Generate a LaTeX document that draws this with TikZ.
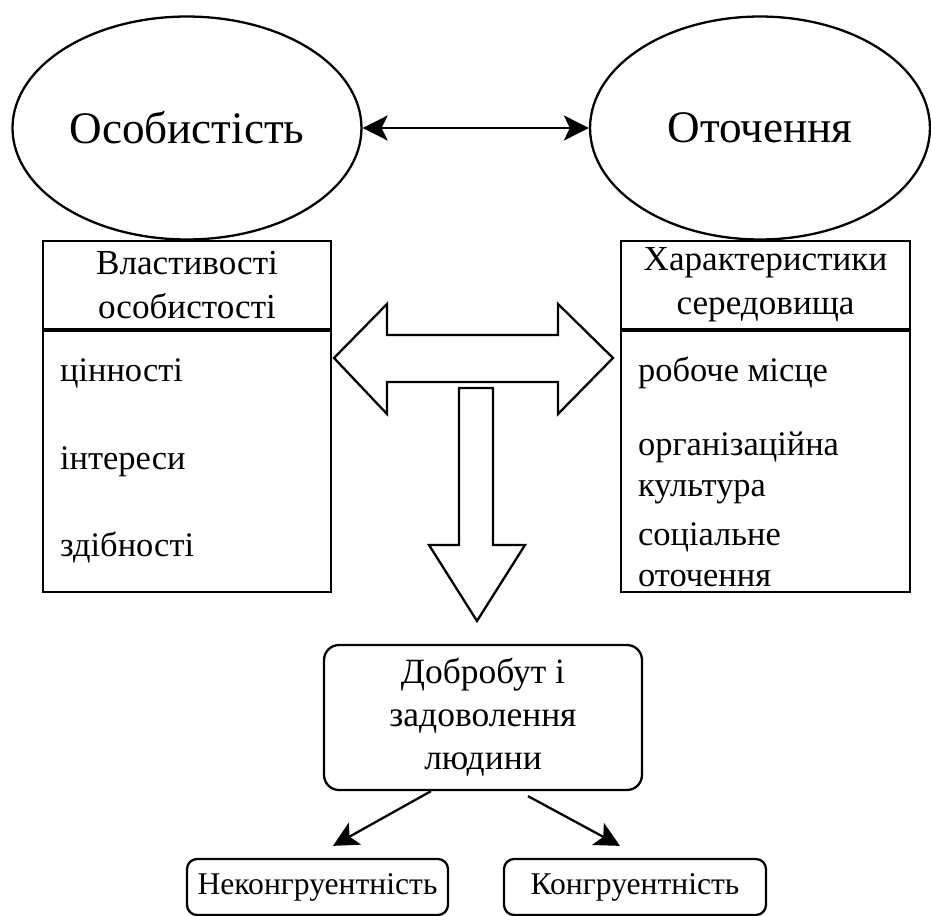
\documentclass[tikz,border=0pt]{standalone}
\usepackage{fontspec}
\setmainfont{Liberation Serif}
\usetikzlibrary{shapes.geometric,arrows.meta}

\begin{document}
\begin{tikzpicture}[x=0.02cm,y=-0.02cm,line width=1.3pt,
    oval/.style={draw,ellipse,minimum width=6.9cm,minimum height=4.46cm,font=\fontsize{25.7}{30}\selectfont},
    hdr/.style={draw,minimum width=5.77cm,minimum height=1.76cm,align=center,font=\fontsize{20}{25}\selectfont},
    listbox/.style={draw,minimum width=5.77cm,minimum height=5.22cm,anchor=north},
    item/.style={anchor=west,align=left,inner sep=0pt,font=\fontsize{19.6}{23.5}\selectfont},
    rbox/.style={draw,rounded corners=0.3cm,align=center,font=\fontsize{20.2}{24.5}\selectfont},
    small/.style={draw,rounded corners=0.2cm,minimum height=1.12cm,font=\fontsize{18}{20}\selectfont},
    bighead/.tip={Stealth[length=0.5cm,width=0.5cm,inset=0.12cm]}]
    \useasboundingbox (0,0) rectangle (931,916);

    % top: personality and environment
    \node[oval] (pers) at (187,128) {Особистість};
    \node[oval,minimum width=6.8cm] (env) at (760,128) {Оточення};
    \draw[bighead-bighead] (pers) -- (env);

    % left column
    \node[hdr] (propH) at (187,285) {Властивості\\особистості};
    \node[listbox] (propB) at (propH.south) {};
    \node[item] (val) at (59,373) {цінності};
    \node[item] (intr) at (59,462) {інтереси};
    \node[item] (abil) at (59,548) {здібності};

    % right column
    \node[hdr] (envH) at (765.5,285) {Характеристики\\середовища};
    \node[listbox] (envB) at (envH.south) {};
    \node[item] (work) at (637,373) {робоче місце};
    \node[item] (cult) at (637,468) {організаційна\\культура};
    \node[item] (soc) at (637,555) {соціальне\\оточення};

    % block arrows
    \draw[fill=white] (334,358) -- (387,304) -- (387,335) -- (558,335) -- (558,304) -- (613,358)
        -- (558,414) -- (558,382) -- (387,382) -- (387,414) -- cycle;
    \draw[fill=white] (459,388) -- (493,388) -- (493,545) -- (525,545) -- (477,621)
        -- (429,545) -- (459,545) -- cycle;

    % bottom
    \node[rbox,minimum width=6.36cm,minimum height=2.9cm] (wb) at (483,717.5) {Добробут і\\задоволення\\людини};
    \node[small,minimum width=5.22cm] (incong) at (317.5,887) {Неконгруентність};
    \node[small,minimum width=5.24cm] (cong) at (635,887) {Конгруентність};
    \draw[-bighead] ([xshift=-1.04cm]wb.south) -- ([xshift=0.31cm,yshift=0.24cm]incong.north);
    \draw[-bighead] ([xshift=0.9cm,yshift=-0.1cm]wb.south) -- ([xshift=-0.3cm,yshift=0.24cm]cong.north);
\end{tikzpicture}
\end{document}
